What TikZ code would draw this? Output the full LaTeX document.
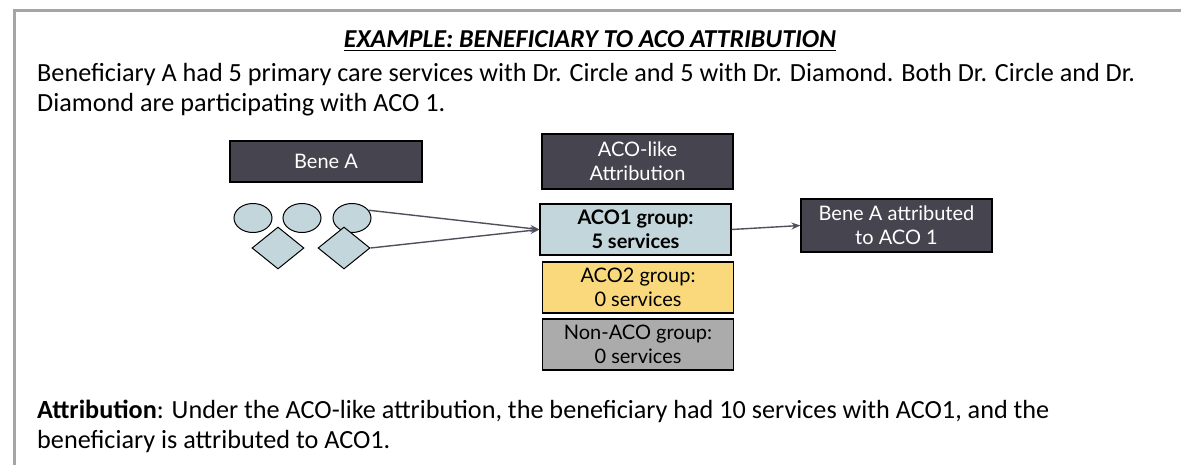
\documentclass[tikz,border=0pt]{standalone}
\usepackage{fontspec}
\setmainfont{Carlito}
\newfontfamily\boxfont{Lato}
\usetikzlibrary{shapes.geometric,arrows.meta}

\definecolor{slate}{HTML}{46454F}
\definecolor{paleblue}{HTML}{C3D6DC}
\definecolor{sand}{HTML}{F9D97C}
\definecolor{midgray}{HTML}{ABABAB}
\definecolor{framegray}{HTML}{A5A5A5}
\definecolor{arrowgray}{HTML}{50505C}

\tikzset{
  body/.style={inner sep=0pt, anchor=base west, font=\fontsize{26.2}{30}\selectfont},
  darkbox/.style={draw=black, line width=1.2pt, fill=slate, text=white, inner sep=0pt,
    align=center, minimum width=191pt, font=\boxfont\fontsize{20}{24}\selectfont},
  groupbox/.style={draw=black, line width=1.2pt, inner sep=0pt, align=center,
    minimum width=191pt, minimum height=51pt, font=\boxfont\fontsize{20}{24}\selectfont},
  visit/.style={draw=black, line width=1pt, fill=paleblue, inner sep=0pt},
  oval/.style={visit, ellipse, minimum width=38pt, minimum height=29pt},
  rhomb/.style={visit, diamond, minimum width=52pt, minimum height=42pt},
  flow/.style={draw=arrowgray, line width=1.4pt, -{Stealth[length=9pt,width=7pt]}}
}

\begin{document}
\begin{tikzpicture}[x=1pt,y=-1pt]
\useasboundingbox (0,0) rectangle (1181,464);

% frame round the example
\draw[framegray, line width=2.6pt] (14.5,480) -- (14.5,10.5) -- (1195,10.5);

% heading
\node[inner sep=0pt, anchor=base, font=\bfseries\itshape\fontsize{25.8}{30}\selectfont]
  (title) at (590,47) {EXAMPLE: BENEFICIARY TO ACO ATTRIBUTION};
\draw[line width=1.3pt] ([yshift=-3.5pt]title.base west) -- ([yshift=-3.5pt]title.base east);

% description
\node[body] (d1) at (37,81) {Beneficiary A had 5 primary care services with Dr. Circle and 5 with Dr. Diamond. Both Dr. Circle and Dr.};
\node[body] (d2) at (37,111) {Diamond are participating with ACO 1.};

% left column: the beneficiary and the visits
\node[darkbox, minimum width=192pt, minimum height=41pt] (bene) at (326,161.5) {Bene A};
\node[oval] (c1) at (253,218) {};
\node[oval] (c2) at (302,218) {};
\node[oval] (c3) at (352,218) {};
\node[rhomb] (m1) at (278,248) {};
\node[rhomb] (m2) at (344,248) {};

% middle column: attribution groups
\node[darkbox, minimum height=55pt] (like) at (637.5,161.5) {ACO-like\\Attribution};
\node[groupbox, fill=paleblue, font=\boxfont\bfseries\fontsize{20}{24}\selectfont] (g1) at (635.5,229.5) {ACO1 group:\\5 services};
\node[groupbox, fill=sand] (g2) at (638,287.5) {ACO2 group:\\0 services};
\node[groupbox, fill=midgray] (g3) at (638,344.5) {Non-ACO group:\\0 services};

% right column: result
\node[darkbox, minimum height=53pt] (res) at (896.5,225.5) {Bene A attributed\\to ACO 1};

% connectors
\draw[flow] (c3.25) -- (g1.west);
\draw[flow] (m2.east) -- (g1.west);
\draw[flow] (g1.east) -- (res.west);

% conclusion
\node[body] (a1) at (37,418) {\textbf{Attribution}: Under the ACO-like attribution, the beneficiary had 10 services with ACO1, and the};
\node[body] (a2) at (37,448) {beneficiary is attributed to ACO1.};
\end{tikzpicture}
\end{document}
